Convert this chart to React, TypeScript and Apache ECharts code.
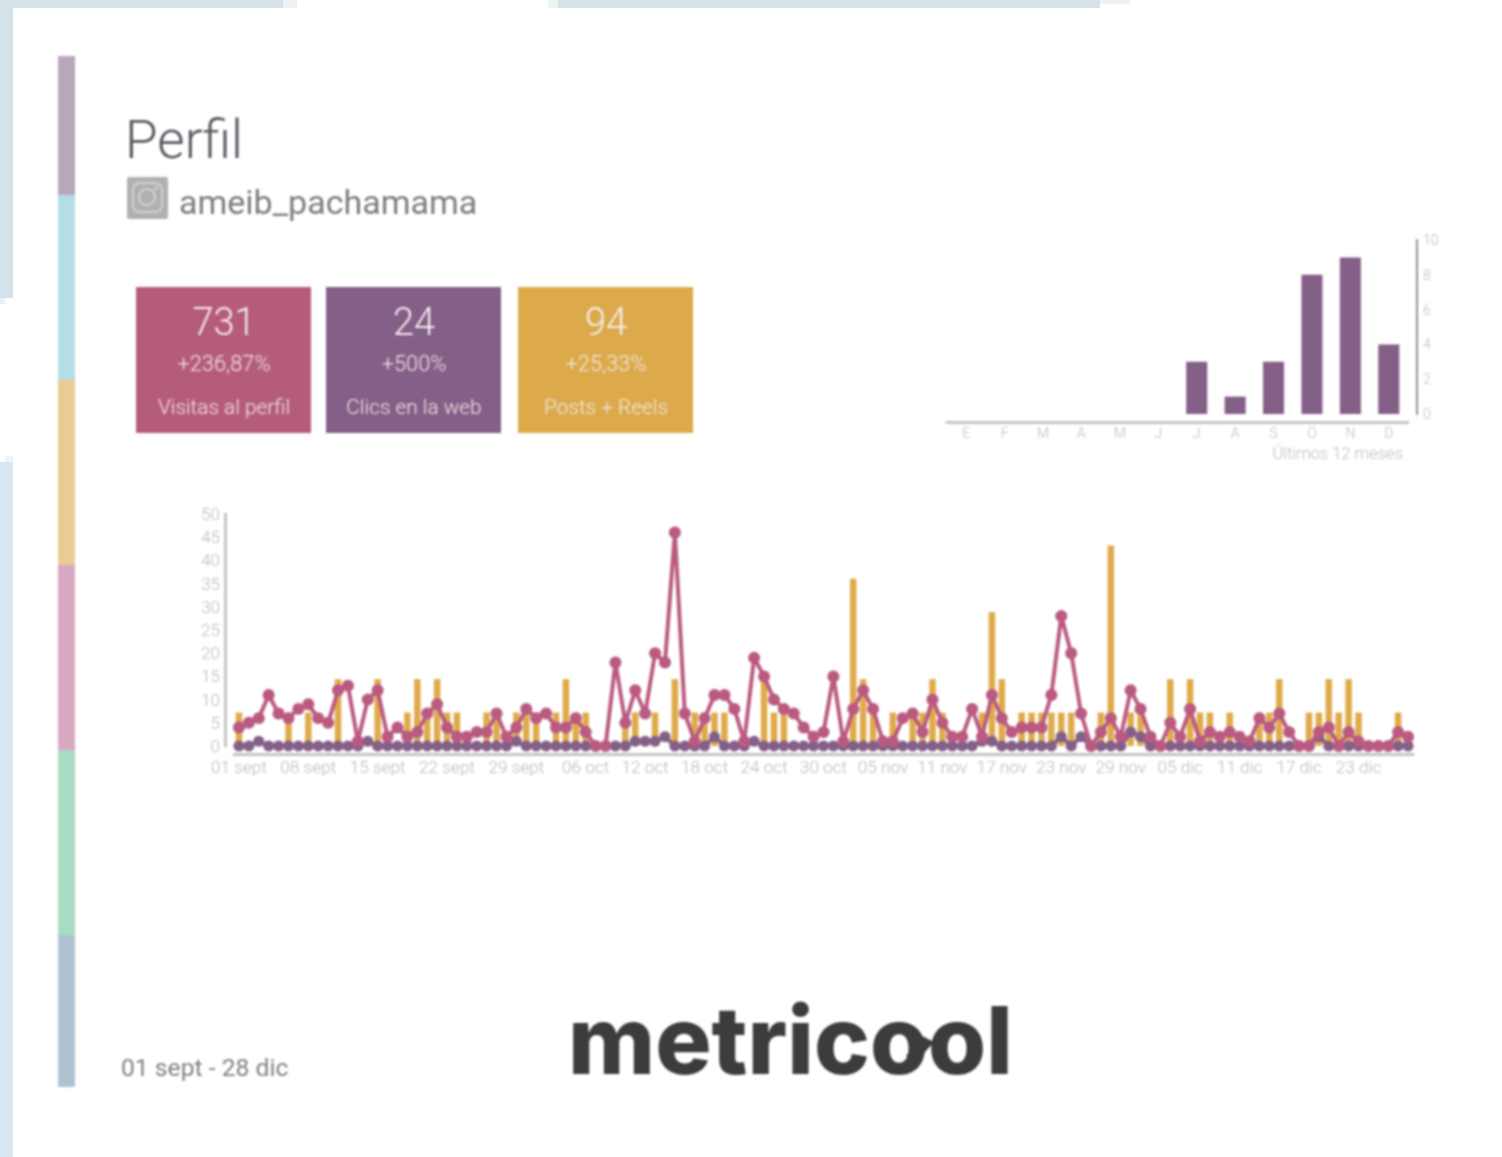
import React, { useEffect, useRef } from "react";
import * as echarts from "echarts";

const monthDays: [string, number][] = [["sept", 30], ["oct", 31], ["nov", 30], ["dic", 28]];
const dayCategories: string[] = monthDays.flatMap(([m, n]) =>
  Array.from({ length: n }, (_, d) => `${String(d + 1).padStart(2, "0")} ${m}`)
);
const shownDays = ["01 sept", "08 sept", "15 sept", "22 sept", "29 sept", "06 oct", "12 oct", "18 oct", "24 oct", "30 oct", "05 nov", "11 nov", "17 nov", "23 nov", "29 nov", "05 dic", "11 dic", "17 dic", "23 dic"];

const visitas = [4,5,6,11,7,6,8,9,6,5,12,13,1,10,12,2,4,2,3,7,9,4,2,2,3,3,7,2,4,8,6,7,4,4,6,3,0,0,18,5,12,7,20,18,46,7,1,6,11,11,8,1,19,15,10,8,7,4,2,3,15,1,8,12,8,1,1,6,7,3,10,5,2,2,8,2,11,6,3,4,4,4,11,28,20,7,0,3,6,2,12,8,2,0,5,2,8,1,3,2,3,2,1,6,4,7,3,0,0,3,4,0,3,1,0,0,0,3,2];
const clics = [0,0,1,0,0,0,0,0,0,0,0,0,0,1,0,0,0,0,0,0,0,0,0,0,0,0,0,0,1,0,0,0,0,0,0,0,0,0,0,0,1,1,1,2,0,0,0,0,2,0,0,0,1,0,0,0,0,0,0,0,0,0,0,0,0,0,0,0,0,0,0,0,0,0,0,1,1,0,0,0,0,0,0,2,0,2,0,0,0,0,3,2,0,0,0,0,0,0,0,0,0,0,0,0,0,0,0,0,0,2,0,0,0,0,0,0,0,0,0];
const posts = [1,0,0,0,0,1,0,1,0,0,2,0,0,0,2,0,0,1,2,1,2,1,1,0,0,1,1,0,1,1,1,0,1,2,1,1,0,0,0,1,1,0,1,0,2,0,1,1,1,1,0,0,0,2,1,1,0,0,0,0,0,0,5,2,1,0,1,0,1,1,2,1,0,0,0,1,4,2,0,1,1,1,1,1,1,0,0,1,6,0,1,1,0,0,2,0,2,1,1,0,1,0,0,1,1,2,0,0,1,1,2,1,2,1,0,0,0,1,0];

const months = ["E", "F", "M", "A", "M", "J", "J", "A", "S", "O", "N", "D"];
const monthly = [0, 0, 0, 0, 0, 0, 3, 1, 3, 8, 9, 4];
const yTicksMain = { max: 50, step: 5 };
const yTicksSmall = { max: 10, step: 2 };

const cards = [
  { value: "731", delta: "+236,87%", label: "Visitas al perfil", color: "#b55c7c", x: 136 },
  { value: "24", delta: "+500%", label: "Clics en la web", color: "#845f87", x: 326 },
  { value: "94", delta: "+25,33%", label: "Posts + Reels", color: "#dcaa4b", x: 518 },
];
const sideColors = ["#b9a6bd", "#b5dde4", "#e9cc93", "#d9a9c1", "#a8dcc4", "#aec3cf"];
const sideStops = [56, 195, 380, 565, 750, 935, 1087];
const frameStrips: [number, number, number, number, string][] = [
  [0, 0, 13, 298, "#d5e2ea"],
  [0, 298, 5, 6, "#eaf0f4"],
  [0, 462, 13, 695, "#d9e6ef"],
  [5, 456, 8, 6, "#eef4f8"],
  [13, 0, 270, 8, "#d5e2ea"],
  [283, 0, 14, 8, "#edf2f5"],
  [558, 0, 542, 8, "#d5e2ea"],
  [548, 0, 10, 8, "#eef3f6"],
  [1100, 0, 30, 4, "#edf2f5"],
];

const FONT = "Roboto, 'Liberation Sans', sans-serif";
const PINK = "#ba5a80";
const PURPLE = "#845f87";
const ORANGE = "#dfab4a";
const AXIS = "#c4c4c4";
const TICK = "#b8b8b8";
const TICK_SMALL = "#bcbcbc";
const LOGO = "#3c3c3c";

function buildGraphic() {
  const g: any[] = [];
  const rect = (x: number, y: number, w: number, h: number, fill: string) =>
    g.push({ type: "rect", shape: { x, y, width: w, height: h }, style: { fill }, silent: true });
  sideColors.forEach((c, i) => rect(58, sideStops[i], 17, sideStops[i + 1] - sideStops[i], c));
  const text = (t: string, x: number, y: number, size: number, fill: string, align = "left", weight: any = 300, family = FONT) =>
    g.push({ type: "text", x, y, style: { text: t, fontSize: size, fill, align, verticalAlign: "middle", fontFamily: family, fontWeight: weight } });
  text("Perfil", 125, 140, 53, "#55595e");
  text("ameib_pachamama", 179, 202, 34, "#7a7d81", "left", 400);
  text("01 sept - 28 dic", 121, 1067, 24.7, "#7e8085", "left", 400);
  g.push({ type: "rect", shape: { x: 127, y: 177, width: 41, height: 42, r: 2 }, style: { fill: "#b0b0b0" } });
  g.push({ type: "rect", shape: { x: 133, y: 183, width: 29, height: 29, r: 7 }, style: { fill: "none", stroke: "#d2d2d2", lineWidth: 2 } });
  g.push({ type: "circle", shape: { cx: 147, cy: 197, r: 8 }, style: { fill: "none", stroke: "#d2d2d2", lineWidth: 2 } });
  g.push({ type: "circle", shape: { cx: 156, cy: 188, r: 1.8 }, style: { fill: "#d2d2d2" } });
  cards.forEach((c) => {
    rect(c.x, 287, 175, 146, c.color);
    const cx = c.x + 88;
    text(c.value, cx, 322, 38, "#f6edf0", "center");
    text(c.delta, cx, 363, 21.8, "#f3e8e8", "center");
    text(c.label, cx, 407, 20.8, "#f3e8e8", "center");
  });
  text("Últimos 12 meses", 1403, 453, 16.5, TICK_SMALL, "right");
  text("metricool", 568, 1040, 94, LOGO, "left", 800, "Inter, 'Noto Sans', sans-serif");
  g.push({ type: "polygon", shape: { points: [[906, 1056], [922, 1036], [934, 1042], [916, 1062]] }, style: { fill: LOGO } });
  return g;
}

export default function App() {
  const ref = useRef<HTMLDivElement>(null);
  useEffect(() => {
    document.body.style.margin = "0";
    document.body.style.background = "#fff";
    document.body.style.overflow = "hidden";
    const chart = echarts.init(ref.current!, null, { renderer: "svg" });
    chart.setOption({
      animation: false,
      backgroundColor: "#ffffff",
      graphic: buildGraphic(),
      textStyle: { fontFamily: FONT },
      grid: [
        { left: 234, right: 89, top: 514, bottom: 411 },
        { left: 947, right: 94, top: 240, bottom: 743 },
      ],
      xAxis: [
        {
          type: "category", gridIndex: 0, data: dayCategories, offset: 8,
          axisLine: { onZero: false, lineStyle: { color: AXIS, width: 3 } }, axisTick: { show: false },
          axisLabel: {
            color: TICK, fontSize: 17.2, fontWeight: 300, margin: 4, hideOverlap: false,
            interval: (_: number, v: string) => shownDays.includes(v),
          },
        },
        {
          type: "category", gridIndex: 1, data: months, offset: 8,
          axisLine: { onZero: false, lineStyle: { color: AXIS, width: 3 } }, axisTick: { show: false },
          axisLabel: { color: TICK_SMALL, fontSize: 14, fontWeight: 300, margin: 4, interval: 0 },
        },
      ],
      yAxis: [
        {
          type: "value", gridIndex: 0, min: 0, max: yTicksMain.max, interval: yTicksMain.step, offset: 9,
          axisLine: { show: true, lineStyle: { color: AXIS, width: 3 } }, axisTick: { show: false }, splitLine: { show: false },
          axisLabel: { color: TICK, fontSize: 17, fontWeight: 300, margin: 5 },
        },
        { type: "value", gridIndex: 0, min: 0, max: 6.94, show: false, splitLine: { show: false } },
        {
          type: "value", gridIndex: 1, position: "right", min: 0, max: yTicksSmall.max, interval: yTicksSmall.step, offset: 9,
          axisLine: { show: true, lineStyle: { color: "#8f8f8f", width: 2 } }, axisTick: { show: false }, splitLine: { show: false },
          axisLabel: { color: TICK_SMALL, fontSize: 14, fontWeight: 300, margin: 6 },
        },
      ],
      series: [
        { name: "Posts + Reels", type: "bar", xAxisIndex: 0, yAxisIndex: 1, data: posts, barWidth: 6.5, itemStyle: { color: ORANGE }, z: 1 },
        { name: "Clics en la web", type: "line", xAxisIndex: 0, yAxisIndex: 0, data: clics, symbol: "circle", symbolSize: 11, showAllSymbol: true, lineStyle: { color: PURPLE, width: 4 }, itemStyle: { color: PURPLE }, z: 2 },
        { name: "Visitas al perfil", type: "line", xAxisIndex: 0, yAxisIndex: 0, data: visitas, symbol: "circle", symbolSize: 12, showAllSymbol: true, lineStyle: { color: PINK, width: 4 }, itemStyle: { color: PINK }, z: 3 },
        { name: "Últimos 12 meses", type: "bar", xAxisIndex: 1, yAxisIndex: 2, data: monthly, barWidth: 21, itemStyle: { color: PURPLE } },
      ],
    });
    return () => chart.dispose();
  }, []);
  return (
    <div style={{ position: "fixed", left: 0, top: 0, width: 1502, height: 1157 }}>
      <div ref={ref} style={{ position: "absolute", left: 0, top: 0, width: 1502, height: 1157, filter: "blur(1px)" }} />
      {frameStrips.map(([x, y, w, h, c], i) => (
        <div key={i} style={{ position: "absolute", left: x, top: y, width: w, height: h, background: c }} />
      ))}
    </div>
  );
}
